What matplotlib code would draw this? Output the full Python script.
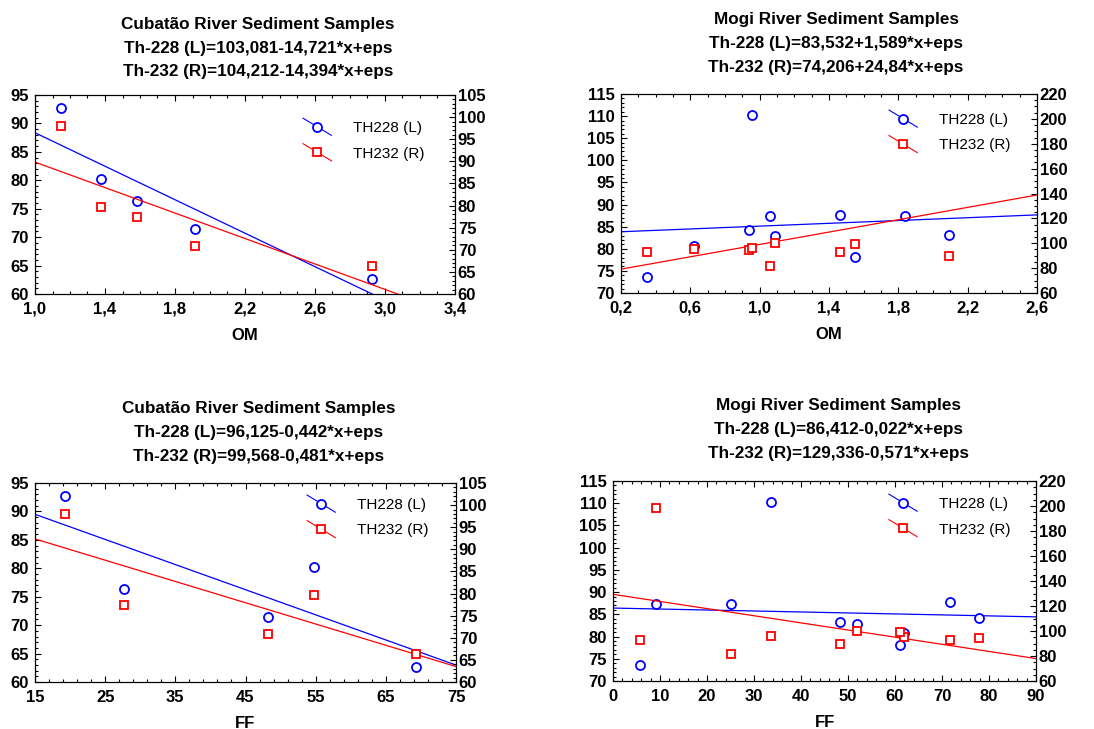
import numpy as np
import matplotlib
matplotlib.use('Agg')
import matplotlib.pyplot as plt
from matplotlib.lines import Line2D
from matplotlib.legend_handler import HandlerBase
from matplotlib.ticker import AutoMinorLocator, FuncFormatter

plt.rcParams['font.family'] = ['Liberation Sans', 'DejaVu Sans']

# Cubatão river samples
cub_om = [1.15, 1.38, 1.58, 1.915, 2.925]
cub_ff = [19.3, 54.75, 27.7, 48.2, 69.3]
cub_th228 = [92.8, 80.3, 76.4, 71.5, 62.6]
cub_th232 = [98.0, 79.7, 77.3, 70.9, 66.3]

# Mogi river samples
mogi_om = [0.35, 0.619, 0.938, 0.954, 1.06, 1.09, 1.465, 1.552, 1.837, 2.092]
mogi_ff = [5.68, 61.9, 77.8, 33.7, 25.1, 51.95, 71.8, 61.0, 9.08, 48.3]
mogi_th228 = [73.7, 80.7, 84.2, 110.3, 87.3, 82.8, 87.7, 78.2, 87.3, 83.2]
mogi_th232 = [92.6, 95.3, 94.7, 96.2, 81.7, 100.3, 92.6, 99.1, 198.4, 89.6]

# fitted lines from the titles: (intercept, slope)
fit_cub_om = [(103.081, -14.721), (104.212, -14.394)]
fit_mogi_om = [(83.532, 1.589), (74.206, 24.84)]
fit_cub_ff = [(96.125, -0.442), (99.568, -0.481)]
fit_mogi_ff = [(86.412, -0.022), (129.336, -0.571)]

titles = [
    'Cubatão River Sediment Samples\nTh-228 (L)=103,081-14,721*x+eps\nTh-232 (R)=104,212-14,394*x+eps',
    'Mogi River Sediment Samples\nTh-228 (L)=83,532+1,589*x+eps\nTh-232 (R)=74,206+24,84*x+eps',
    'Cubatão River Sediment Samples\nTh-228 (L)=96,125-0,442*x+eps\nTh-232 (R)=99,568-0,481*x+eps',
    'Mogi River Sediment Samples\nTh-228 (L)=86,412-0,022*x+eps\nTh-232 (R)=129,336-0,571*x+eps',
]


class DiagHandler(HandlerBase):
    # statistica style legend key: slanted line with the marker on it
    def create_artists(self, legend, orig_handle, xdescent, ydescent,
                       width, height, fontsize, trans):
        x0, x1 = -xdescent, width - xdescent
        y0, y1 = 1.3 * height - ydescent, -0.3 * height - ydescent
        c = orig_handle.get_markeredgecolor()
        ln = Line2D([x0, x1], [y0, y1], color=c, lw=0.8)
        mk = Line2D([(x0 + x1) / 2], [(y0 + y1) / 2], ls='none',
                    marker=orig_handle.get_marker(),
                    markersize=orig_handle.get_markersize(),
                    mfc='white', mec=c, mew=orig_handle.get_markeredgewidth())
        ln.set_transform(trans)
        mk.set_transform(trans)
        return [ln, mk]


W, H = 1094, 729
fig = plt.figure(figsize=(W / 100, H / 100), dpi=100)

# pixel boxes: left, top, right, bottom
boxes = [(35, 95, 455, 294), (621, 94, 1037, 293),
         (35, 483, 456, 682), (613, 481, 1036, 681)]
leg_pos = [(0.631, 0.884), (0.637, 0.92), (0.639, 0.94), (0.645, 0.935)]
title_x = [0.531, 0.517, 0.531, 0.532]
title_pad = [13.5, 16, 16, 16.8]

panels = [
    (cub_om, cub_th228, cub_th232, fit_cub_om, (1.0, 3.4, 0.4), (60, 95, 5), (60, 105, 5), 'OM'),
    (mogi_om, mogi_th228, mogi_th232, fit_mogi_om, (0.2, 2.6, 0.4), (70, 115, 5), (60, 220, 20), 'OM'),
    (cub_ff, cub_th228, cub_th232, fit_cub_ff, (15, 75, 10), (60, 95, 5), (60, 105, 5), 'FF'),
    (mogi_ff, mogi_th228, mogi_th232, fit_mogi_ff, (0, 90, 10), (70, 115, 5), (60, 220, 20), 'FF'),
]

fs = 12
blue = '#0000ff'
red = '#ff0000'

for i, (x, yl, yr, fit, xr, ylr, yrr, xlab) in enumerate(panels):
    l, t, r, b = boxes[i]
    ax1 = fig.add_axes([l / W, 1 - b / H, (r - l) / W, (b - t) / H])
    ax2 = ax1.twinx()

    xx = np.array([xr[0], xr[1]])
    ax1.plot(xx, fit[0][0] + fit[0][1] * xx, color=blue, lw=0.9, zorder=2)
    ax2.plot(xx, fit[1][0] + fit[1][1] * xx, color=red, lw=0.9, zorder=2)
    h1, = ax1.plot(x, yl, 'o', ms=6.5, mfc='white', mec=blue, mew=1.3, label='TH228 (L)', zorder=3)
    h2, = ax2.plot(x, yr, 's', ms=6, mfc='white', mec=red, mew=1.3, label='TH232 (R)', zorder=3)

    ax1.set_xticks(np.arange(xr[0], xr[1] + xr[2] / 2, xr[2]))
    ax1.set_yticks(np.arange(ylr[0], ylr[1] + 1, ylr[2]))
    ax2.set_yticks(np.arange(yrr[0], yrr[1] + 1, yrr[2]))
    ax1.set_xlim(xr[0], xr[1])
    ax1.set_ylim(ylr[0], ylr[1])
    ax2.set_ylim(yrr[0], yrr[1])
    for a in (ax1.xaxis, ax1.yaxis, ax2.yaxis):
        a.set_minor_locator(AutoMinorLocator())
    if xlab == 'OM':
        ax1.xaxis.set_major_formatter(FuncFormatter(lambda v, p: f'{v:.1f}'.replace('.', ',')))
    else:
        ax1.xaxis.set_major_formatter(FuncFormatter(lambda v, p: f'{v:.0f}'))

    ax1.tick_params(which='both', direction='in', top=True, right=False,
                    labelsize=fs, width=0.8)
    ax1.tick_params(which='major', length=4)
    ax1.tick_params(which='minor', length=2.5)
    ax1.tick_params(axis='y', pad=4.5)
    ax1.tick_params(axis='x', pad=5.5)
    ax2.tick_params(which='both', direction='in', labelsize=fs, width=0.8, pad=2)
    ax2.tick_params(which='major', length=4)
    ax2.tick_params(which='minor', length=2.5)
    for a in (ax1, ax2):
        for lab in a.get_xticklabels() + a.get_yticklabels():
            lab.set_fontweight('bold')
        for s in a.spines.values():
            s.set_linewidth(0.8)

    ax1.set_xlabel(xlab, fontsize=fs, fontweight='bold', labelpad=8)
    ax1.set_title(titles[i], fontsize=12.3, fontweight='bold', x=title_x[i],
                  pad=title_pad[i], linespacing=1.72)

    leg = ax2.legend([h1, h2], ['TH228 (L)', 'TH232 (R)'], handler_map={Line2D: DiagHandler()},
                     loc='upper left', bbox_to_anchor=leg_pos[i], fontsize=11,
                     frameon=True, facecolor='white', edgecolor='none', framealpha=1,
                     handlelength=1.85, handletextpad=1.4, labelspacing=0.75,
                     borderpad=0.2, borderaxespad=0)
    leg.set_zorder(5)

fig.savefig('out.png', dpi=100)
